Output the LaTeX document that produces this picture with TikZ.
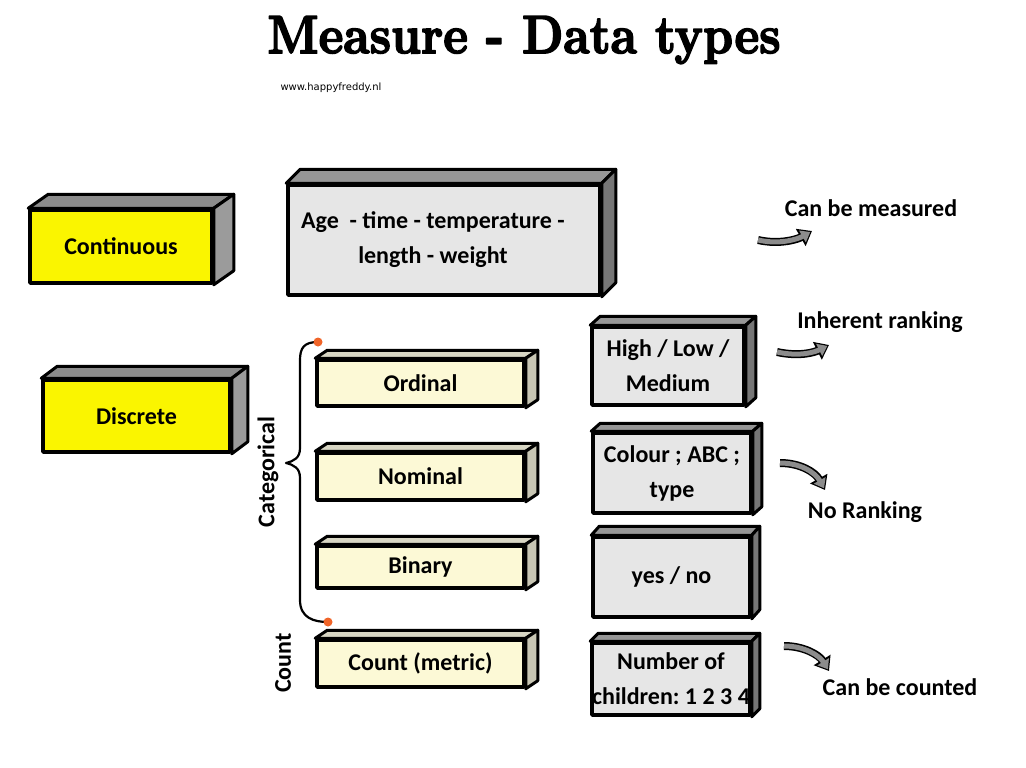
\documentclass[tikz,border=0pt]{standalone}
\usepackage{fontspec}
\newfontfamily\bodyfont{Carlito}
\newfontfamily\urlfont{DejaVu Sans}
\newfontfamily\titlefont{lmroman10-bold.otf}[FakeBold=3]
\usetikzlibrary{arrows.meta}
\definecolor{boxYellow}{RGB}{250,245,0}
\definecolor{boxCream}{RGB}{252,249,214}
\definecolor{boxGray}{RGB}{230,230,230}
\definecolor{yellowTop}{RGB}{140,140,140}
\definecolor{yellowSide}{RGB}{155,155,155}
\definecolor{creamTop}{RGB}{216,214,196}
\definecolor{creamSide}{RGB}{200,198,180}
\definecolor{grayTop}{RGB}{150,150,150}
\definecolor{graySide}{RGB}{118,118,118}
\definecolor{arrowGray}{RGB}{140,140,140}
\definecolor{dotOrange}{RGB}{240,100,40}
\tikzset{
     catNode/.style =
        { draw
        , line width=3.5pt
        , fill=boxYellow
        , inner sep=0pt
        , font=\bodyfont\bfseries\frenchspacing\fontsize{24}{28}\selectfont
        }
   , typeNode/.style =
        { catNode
        , fill=boxCream
        }
   , exampleNode/.style =
        { catNode
        , fill=boxGray
        , align=center
        , font=\bodyfont\bfseries\frenchspacing\fontsize{24}{35}\selectfont
        }
   , noteText/.style =
        { font=\bodyfont\bfseries\fontsize{24}{28}\selectfont
        }
   , faceLine/.style =
        { draw
        , line width=3pt
        }
}

\begin{document}
\begin{tikzpicture}
            [ x=1pt
            , y=-1pt
            , line join=round
            ]
            \useasboundingbox (0,0) rectangle (1026,768);

            \node (title) at (524,40)
                {\scalebox{0.87}[1]{\titlefont\fontsize{54}{60}\selectfont Measure - Data types}};
            \node[font=\urlfont\fontsize{10}{12}\selectfont] (url) at (331,88) {www.happyfreddy.nl};

            % main categories
            \node[catNode, minimum width=182, minimum height=73] (cont) at (121,246.5) {Continuous};
            \node[catNode, minimum width=187, minimum height=72] (disc) at (136.5,416) {Discrete};
            \node[exampleNode, minimum width=312, minimum height=110] (age) at (444,240)
                {\hspace*{-22pt}Age\ \ - time - temperature -\\\hspace*{-22pt}length - weight};

            % discrete types
            \node[typeNode, minimum width=207, minimum height=46] (ord) at (420.5,383) {Ordinal};
            \node[typeNode, minimum width=207, minimum height=47] (nom) at (420.5,476.5) {Nominal};
            \node[typeNode, minimum width=207, minimum height=42] (bin) at (420.5,567) {Binary};
            \node[typeNode, minimum width=207, minimum height=47] (cnt) at (420.5,663.5) {Count (metric)};

            % examples
            \node[exampleNode, minimum width=152, minimum height=78] (high) at (668,366) {High / Low /\\Medium};
            \node[exampleNode, minimum width=158, minimum height=80] (colour) at (672,473) {Colour ; ABC ;\\type};
            \node[exampleNode, minimum width=157, minimum height=80] (yesno) at (671.5,577) {yes / no};
            \node[exampleNode, minimum width=158, minimum height=72] (number) at (671,679)
                {\raisebox{-4pt}{Number of}\\\raisebox{-4pt}{children: 1 2 3 4}};

            % top and side faces
            \foreach \n/\dx/\dy/\tc/\sc in {cont/20/14/yellowTop/yellowSide,
                disc/16/12/yellowTop/yellowSide, age/14/14/grayTop/graySide,
                ord/12/8/creamTop/creamSide, nom/12/8/creamTop/creamSide,
                bin/12/8/creamTop/creamSide, cnt/12/8/creamTop/creamSide,
                high/10/9/grayTop/graySide, colour/9/8/grayTop/graySide,
                yesno/8/9/grayTop/graySide, number/8/8/grayTop/graySide}
            {
                \path[faceLine, fill=\tc] (\n.north west) -- ++(\dx,-\dy)
                    -- ([shift={(\dx,-\dy)}]\n.north east) -- (\n.north east) -- cycle;
                \path[faceLine, fill=\sc] (\n.north east) -- ++(\dx,-\dy)
                    -- ([shift={(\dx,-\dy)}]\n.south east) -- (\n.south east) -- cycle;
            }

            % group labels
            \node[noteText, rotate=90] (categorical) at (268,472) {Categorical};
            \node[noteText, rotate=90] (count) at (283,663) {Count};

            \coordinate (bTop) at (318,342);
            \coordinate (bTip) at (286,463);
            \coordinate (bBot) at (328,622);
            \draw[line width=2.2pt, line cap=round]
                (bTop) .. controls +(-14,0) and +(0,-12) .. (300,360) -- (300,448)
                .. controls +(0,10) and +(8,-2) .. (bTip)
                .. controls +(8,2) and +(0,-10) .. (300,478) -- (300,600)
                .. controls +(0,18) and +(-14,0) .. (bBot);
            \fill[dotOrange] (bTop) circle (4.5pt);
            \fill[dotOrange] (bBot) circle (4.5pt);

            % notes
            \node[noteText] (measured) at (871,208) {Can be measured};
            \node[noteText] (ranking) at (880,322) {Inherent ranking};
            \node[noteText] (noranking) at (865,512) {No Ranking};
            \node[noteText] (counted) at (900,687) {Can be counted};

            \coordinate (m1) at (758,240);
            \coordinate (m2) at (812,231);
            \coordinate (r1) at (777,352);
            \coordinate (r2) at (829,345);
            \coordinate (n1) at (780,463);
            \coordinate (n2) at (825,490);
            \coordinate (c1) at (784,646);
            \coordinate (c2) at (829,671);

            \foreach \s/\e/\ca/\cb in {m1/m2/{22,5}/{-14,8}, r1/r2/{23,5}/{-14,7},
                n1/n2/{20,0}/{-10,-18}, c1/c2/{20,0}/{-10,-16}}
            {
                \draw[line width=8pt, -{Triangle[length=13pt,width=19pt]}]
                    (\s) .. controls +(\ca) and +(\cb) .. (\e);
                \draw[line width=5pt, arrowGray, shorten >=2pt, -{Triangle[length=9pt,width=13pt]}]
                    (\s) .. controls +(\ca) and +(\cb) .. (\e);
            }
        \end{tikzpicture}
\end{document}
